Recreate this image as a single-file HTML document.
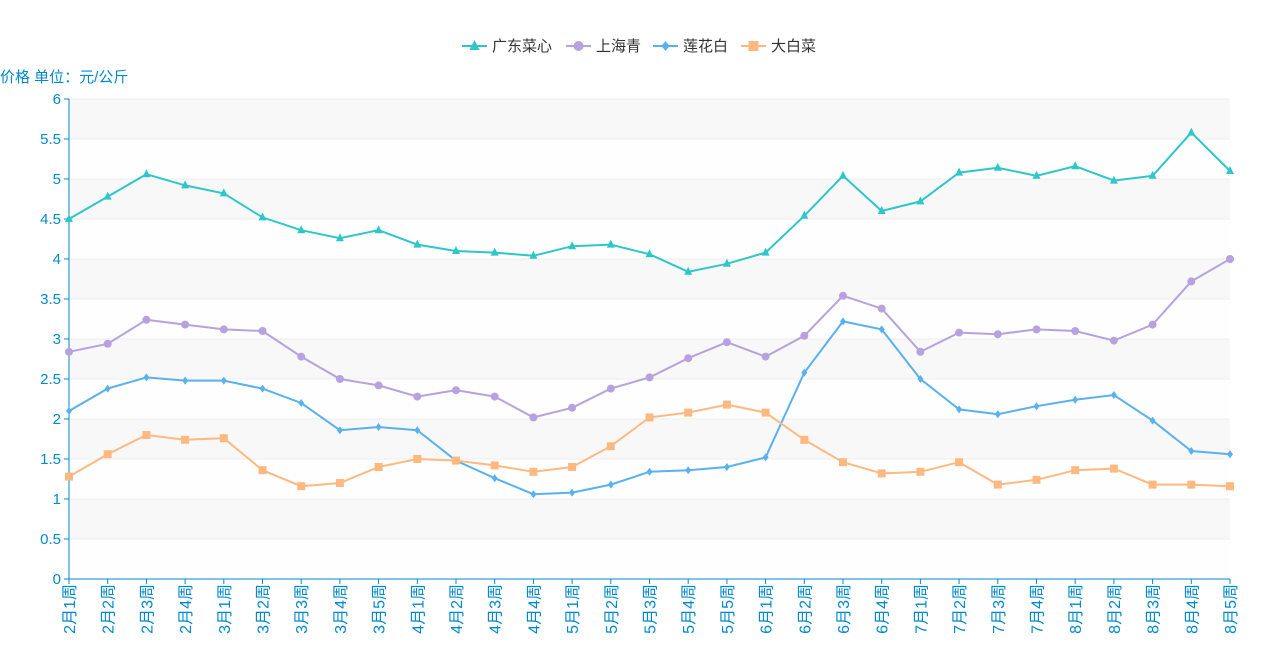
<!DOCTYPE html>
<html><head><meta charset="utf-8"><style>
html,body{margin:0;padding:0;background:#fff;}
svg{display:block;font-family:"Liberation Sans","Noto Sans CJK SC",sans-serif;}
</style></head><body>
<svg id="c" width="1282" height="658" xmlns="http://www.w3.org/2000/svg"></svg>
<script>
var svg=document.getElementById('c'),NS='http://www.w3.org/2000/svg';
function el(t,a,txt){var e=document.createElementNS(NS,t);for(var k in a)e.setAttribute(k,a[k]);if(txt!=null)e.textContent=txt;svg.appendChild(e);return e;}
var x0=69,x1=1230,y0=579,yk=80;
var cats=[];[[2,4],[3,5],[4,4],[5,5],[6,4],[7,4],[8,5]].forEach(function(m){for(var i=1;i<=m[1];i++)cats.push(m[0]+'月'+i+'周');});
var dx=(x1-x0)/(cats.length-1);
function X(i){return x0+i*dx;}function Y(v){return y0-v*yk;}
for(var b=0;b<12;b++){el('rect',{x:x0,y:Y((b+1)*0.5),width:x1-x0,height:40,fill:b%2?'#f8f8f8':'#fefefe'});}
for(var v=0;v<=12;v++){var y=Y(v*0.5);if(v>0)el('line',{x1:x0,x2:x1,y1:y,y2:y,stroke:'#eee','stroke-width':1});
el('line',{x1:x0-5,x2:x0,y1:y,y2:y,stroke:'#008acd'});
el('text',{x:61,y:y+5,'text-anchor':'end','font-size':15,fill:'#008acd'},String(v*0.5));}
el('line',{x1:x0,x2:x0,y1:99,y2:y0,stroke:'#008acd'});
el('line',{x1:x0,x2:x1,y1:y0,y2:y0,stroke:'#008acd'});
cats.forEach(function(c,i){var x=X(i);el('line',{x1:x,x2:x,y1:y0,y2:y0+5,stroke:'#008acd'});
el('text',{x:0,y:0,transform:'translate('+(x+6)+',584) rotate(-90)','text-anchor':'end','font-size':16,fill:'#008acd'},c);});
el('text',{x:0,y:82,'font-size':15,fill:'#008acd'},'价格 单位：元/公斤');
var S=[
{n:'广东菜心',c:'#2ec7c9',m:'tri',d:[4.5,4.78,5.06,4.92,4.82,4.52,4.36,4.26,4.36,4.18,4.1,4.08,4.04,4.16,4.18,4.06,3.84,3.94,4.08,4.54,5.04,4.6,4.72,5.08,5.14,5.04,5.16,4.98,5.04,5.58,5.1]},
{n:'上海青',c:'#b6a2de',m:'cir',d:[2.84,2.94,3.24,3.18,3.12,3.1,2.78,2.5,2.42,2.28,2.36,2.28,2.02,2.14,2.38,2.52,2.76,2.96,2.78,3.04,3.54,3.38,2.84,3.08,3.06,3.12,3.1,2.98,3.18,3.72,4.0]},
{n:'莲花白',c:'#5ab1ef',m:'dia',d:[2.1,2.38,2.52,2.48,2.48,2.38,2.2,1.86,1.9,1.86,1.48,1.26,1.06,1.08,1.18,1.34,1.36,1.4,1.52,2.58,3.22,3.12,2.5,2.12,2.06,2.16,2.24,2.3,1.98,1.6,1.56]},
{n:'大白菜',c:'#ffb980',m:'sq',d:[1.28,1.56,1.8,1.74,1.76,1.36,1.16,1.2,1.4,1.5,1.48,1.42,1.34,1.4,1.66,2.02,2.08,2.18,2.08,1.74,1.46,1.32,1.34,1.46,1.18,1.24,1.36,1.38,1.18,1.18,1.16]}];
function mark(t,x,y,c,s){s=s||4;
if(t=='tri')el('path',{d:'M'+x+','+(y-s-1)+'L'+(x+s)+','+(y+s-1)+'L'+(x-s)+','+(y+s-1)+'Z',fill:c});
else if(t=='cir')el('circle',{cx:x,cy:y,r:s,fill:c});
else if(t=='dia')el('path',{d:'M'+x+','+(y-s)+'L'+(x+s-1)+','+y+'L'+x+','+(y+s)+'L'+(x-s+1)+','+y+'Z',fill:c});
else el('rect',{x:x-s,y:y-s,width:2*s,height:2*s,fill:c});}
S.forEach(function(s){var p=s.d.map(function(v,i){return X(i).toFixed(1)+','+Y(v).toFixed(1);}).join(' ');
el('polyline',{points:p,fill:'none',stroke:s.c,'stroke-width':2});
s.d.forEach(function(v,i){mark(s.m,X(i),Y(v),s.c);});});
var lx=[462,566,653,741];
S.forEach(function(s,i){var x=lx[i];el('line',{x1:x,x2:x+25,y1:46,y2:46,stroke:s.c,'stroke-width':2});
mark(s.m,x+12.5,46,s.c,5);el('text',{x:x+30,y:51,'font-size':15,fill:'#333'},s.n);});
</script>
</body></html>
